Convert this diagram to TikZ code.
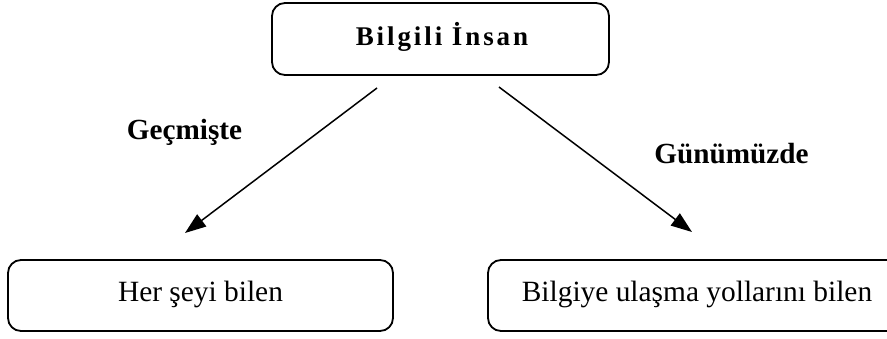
\documentclass[tikz,border=0pt]{standalone}
\usepackage{fontspec}
\setmainfont{Liberation Serif}
\usetikzlibrary{arrows.meta,positioning}

\begin{document}
\begin{tikzpicture}[
        x=1pt, y=-1pt,
        font=\fontsize{29.4}{34}\selectfont,
        arrow/.style={-{Triangle[length=21pt,width=15pt]}, line width=1.5pt},
        kutu/.style={draw, rounded corners=13pt, line width=1.8pt, inner sep=0pt},
        baslik/.style={font=\fontsize{27}{32}\selectfont\bfseries\addfontfeature{LetterSpace=10.8}},
        etiket/.style={font=\fontsize{29.2}{34}\selectfont\bfseries, anchor=base}
    ]
        \useasboundingbox (0,0) rectangle (887,338);

        \node[kutu, minimum width=337pt, minimum height=72pt] (insan) at (440.5,39) {};
        \node[baslik, anchor=base] (insanyazi) at (442,45) {Bilgili İnsan};

        \node[kutu, minimum width=385pt, minimum height=71pt] (gecmis) at (200.5,295.5) {};
        \node[anchor=base] (gecmisyazi) at (200.5,301) {Her şeyi bilen};

        \node[kutu, minimum width=418pt, minimum height=71pt] (bugun) at (697,295.5) {};
        \node[anchor=base] (bugunyazi) at (697,301) {Bilgiye ulaşma yollarını bilen};

        \coordinate (solbas) at (377,88);
        \coordinate (solson) at (185,233);
        \coordinate (sagbas) at (499,87);
        \coordinate (sagson) at (692,232);

        \draw[arrow] (solbas) -- (solson);
        \draw[arrow] (sagbas) -- (sagson);

        \node[etiket] (gecmiste) at (184.5,139) {Geçmişte};
        \node[etiket] (gunumuzde) at (731.5,163) {Günümüzde};
    \end{tikzpicture}
\end{document}
